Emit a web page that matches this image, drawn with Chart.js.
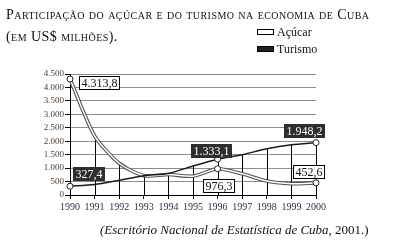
<!DOCTYPE html>
<html>
<head>
<meta charset="utf-8">
<script src="https://cdn.jsdelivr.net/npm/chart.js@4.4.0/dist/chart.umd.min.js"></script>
<style>
  body { margin: 0; background: #fff; }
  #wrap { position: relative; width: 393px; height: 245px; overflow: hidden; font-family: "Liberation Serif", serif; color: #111; }
  #chart { position: absolute; left: 0; top: 0; }
  .title { position: absolute; left: 6px; font-size: 14px; letter-spacing: 0.45px; font-variant: small-caps; white-space: nowrap; }
  .leg { position: absolute; left: 257px; font-size: 12px; white-space: nowrap; }
  .leg span { display: inline-block; width: 15px; height: 4px; border: 1px solid #000; margin-right: 3px; vertical-align: 1px; }
  #source { position: absolute; left: 100px; top: 222px; font-size: 13px; white-space: nowrap; }
</style>
</head>
<body>
<div id="wrap">
  <canvas id="chart" width="393" height="245"></canvas>
  <div class="title" id="t1" style="top:7px">Participação do açúcar e do turismo na economia de Cuba</div>
  <div class="title" id="t2" style="top:29px">(em US$ milhões).</div>
  <div class="leg" style="top:25px"><span style="background:#fff"></span>Açúcar</div>
  <div class="leg" style="top:42px"><span style="background:#222"></span>Turismo</div>
  <div id="source"><i>(Escritório Nacional de Estatística de Cuba</i>, 2001.)</div>
</div>
<script>
//------------------------------------
// Data
//------------------------------------

const years = ["1990", "1991", "1992", "1993", "1994", "1995", "1996", "1997", "1998", "1999", "2000"];

const sugar = [4313.8, 2200, 1180, 720, 760, 700, 976.3, 790, 520, 420, 452.6];

const tourism = [327.4, 390, 550, 720, 800, 1080, 1333.1, 1500, 1720, 1870, 1948.2];

const yTicks = [0, 500, 1000, 1500, 2000, 2500, 3000, 3500, 4000, 4500];

// points that carry a value box
const labelled = [0, 6, 10];

// box offsets from the point (center of box), by series and index
const boxPos = [
    { series: "sugar", index: 0, dx: 29, dy: 3 },
    { series: "sugar", index: 6, dx: 1, dy: 17 },
    { series: "sugar", index: 10, dx: -8, dy: -11 },
    { series: "tourism", index: 0, dx: 18, dy: -13 },
    { series: "tourism", index: 6, dx: -7, dy: -9 },
    { series: "tourism", index: 10, dx: -12, dy: -12 }
];

//------------------------------------
// Helpers
//------------------------------------

function fmt(v, dec) {

    let s = v.toFixed(dec);

    let parts = s.split(".");

    let intPart = parts[0].replace(/\B(?=(\d{3})+(?!\d))/g, ".");

    return parts.length > 1 ? intPart + "," + parts[1] : intPart;
}

const radii = years.map((y, i) => labelled.includes(i) ? 3 : 0);

//------------------------------------
// Plugins
//------------------------------------

const dropLines = {
    id: "dropLines",
    beforeDatasetsDraw(chart) {
        const ctx = chart.ctx;
        const xs = chart.scales.x;
        const ys = chart.scales.y;
        ctx.save();
        ctx.strokeStyle = "#000";
        ctx.lineWidth = 1;
        years.forEach((y, i) => {
            const x = Math.round(xs.getPixelForValue(i)) + 0.5;
            const top = ys.getPixelForValue(Math.max(sugar[i], tourism[i]));
            ctx.beginPath();
            ctx.moveTo(x, ys.getPixelForValue(0));
            ctx.lineTo(x, top);
            ctx.stroke();
        });
        ctx.restore();
    }
};

const valueBoxes = {
    id: "valueBoxes",
    afterDatasetsDraw(chart) {
        const ctx = chart.ctx;
        const xs = chart.scales.x;
        const ys = chart.scales.y;
        ctx.save();
        ctx.font = "12px 'Liberation Serif'";
        ctx.textAlign = "center";
        ctx.textBaseline = "middle";
        boxPos.forEach(b => {
            const arr = b.series === "sugar" ? sugar : tourism;
            const v = arr[b.index];
            const txt = fmt(v, 1);
            const px = xs.getPixelForValue(b.index);
            const py = ys.getPixelForValue(v);
            const cx = px + b.dx;
            const cy = py + b.dy;
            const w = Math.round(ctx.measureText(txt).width) + 4;
            const h = 13;
            const l = Math.round(cx - w / 2) + 0.5;
            const t = Math.round(cy - h / 2) + 0.5;
            if (b.series === "sugar") {
                ctx.fillStyle = "#fff";
                ctx.fillRect(l, t, w, h);
                ctx.strokeStyle = "#000";
                ctx.lineWidth = 1;
                ctx.strokeRect(l, t, w, h);
                ctx.fillStyle = "#111";
            } else {
                ctx.fillStyle = "#2e2e2e";
                ctx.fillRect(l - 0.5, t - 0.5, w + 1, h + 1);
                ctx.fillStyle = "#fff";
            }
            ctx.fillText(txt, l + w / 2, t + h / 2 + 0.5);
        });
        ctx.restore();
    }
};

//------------------------------------
// Chart
//------------------------------------

window.addEventListener("load", function () {

    const ctx = document.getElementById("chart");

    new Chart(ctx, {
        type: "line",
        data: {
            labels: years,
            datasets: [
                {
                    label: "Açúcar (contorno)",
                    data: sugar,
                    borderColor: "#505050",
                    borderWidth: 3.6,
                    pointRadius: 0,
                    tension: 0.25,
                    order: 3
                },
                {
                    label: "Açúcar",
                    data: sugar,
                    borderColor: "#ffffff",
                    borderWidth: 1.5,
                    pointRadius: radii,
                    pointBackgroundColor: "#fff",
                    pointBorderColor: "#222",
                    pointBorderWidth: 1,
                    tension: 0.25,
                    order: 2
                },
                {
                    label: "Turismo",
                    data: tourism,
                    borderColor: "#1a1a1a",
                    borderWidth: 1.5,
                    pointRadius: radii,
                    pointBackgroundColor: "#fff",
                    pointBorderColor: "#222",
                    pointBorderWidth: 1,
                    tension: 0.25,
                    order: 1
                }
            ]
        },
        options: {
            responsive: false,
            animation: false,
            layout: { padding: { top: 74, right: 77, left: 0, bottom: 0 } },
            plugins: {
                legend: { display: false },
                tooltip: { enabled: false }
            },
            scales: {
                x: {
                    offset: false,
                    grid: { drawOnChartArea: false, tickLength: 4, tickColor: "#000" },
                    border: { color: "#000" },
                    ticks: {
                        font: { family: "Liberation Serif", size: 10 },
                        color: "#3a2a48",
                        padding: 2,
                        maxRotation: 0,
                        autoSkip: false
                    },
                    afterFit(s) { s.height = 50; }
                },
                y: {
                    min: 0,
                    max: 4500,
                    afterBuildTicks(s) { s.ticks = yTicks.map(v => ({ value: v })); },
                    grid: { color: "#8c8c8c", tickLength: 5, tickColor: "#000" },
                    border: { color: "#000" },
                    ticks: {
                        font: { family: "Liberation Serif", size: 9 },
                        color: "#4a4038",
                        padding: 1,
                        autoSkip: false,
                        callback: v => fmt(v, 0)
                    },
                    afterFit(s) { s.width = 70; }
                }
            }
        },
        plugins: [dropLines, valueBoxes]
    });

});
</script>
</body>
</html>
